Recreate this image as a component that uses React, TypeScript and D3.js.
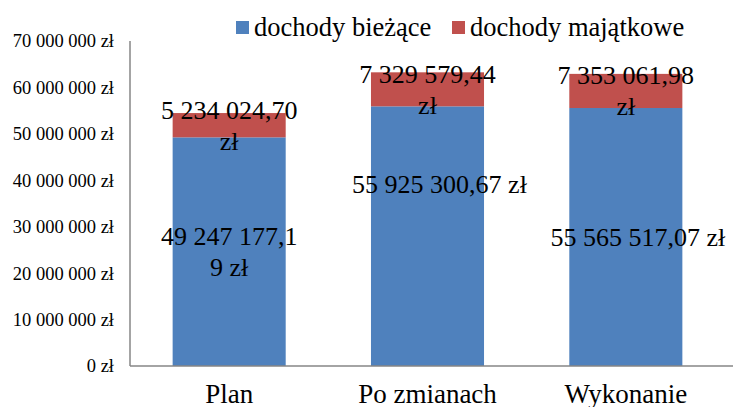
import React from 'react';
import * as d3 from 'd3';

const categories = ['Plan', 'Po zmianach', 'Wykonanie'];
const seriesNames = ['dochody bieżące', 'dochody majątkowe'];
const biezace = [49247177.19, 55925300.67, 55565517.07];
const majatkowe = [5234024.7, 7329579.44, 7353061.98];
const tickValues = [0, 10000000, 20000000, 30000000, 40000000, 50000000, 60000000, 70000000];
// label text as Excel wrapped it
const biezaceLabels = [['49 247 177,1', '9 zł'], ['55 925 300,67 zł'], ['55 565 517,07 zł']];
const majatkoweLabels = [['5 234 024,70', 'zł'], ['7 329 579,44', 'zł'], ['7 353 061,98', 'zł']];

const colors = ['#4F81BD', '#C0504D'];
const FONT = "'Liberation Serif'";

const fmtTick = (d: number) =>
  d === 0 ? '0 zł' : d3.format(',')(d).replace(/,/g, ' ') + ' zł';

const width = 733;
const height = 407;
const margin = { top: 41, right: 8, bottom: 41, left: 130 };

const x = d3
  .scaleBand()
  .domain(categories)
  .range([margin.left, width - margin.right])
  .paddingInner(0.43)
  .paddingOuter(0.215);

const y = d3
  .scaleLinear()
  .domain([0, 70000000])
  .range([height - margin.bottom, margin.top]);

const stackData = categories.map((c, i) => ({ cat: c, a: biezace[i], b: majatkowe[i] }));
const stacked = d3.stack<any>().keys(['a', 'b'])(stackData);
const allLabels = [biezaceLabels, majatkoweLabels];

// Excel placed the middle blue label higher and nudged single-line labels right
const lift = [[0, 52, 0], [0, 0, 0]];
const dxSingle = 12;
const lineH = 31;

const App = () => {
  if (typeof document !== 'undefined') document.body.style.margin = '0';
  return (
    <svg width={width} height={height} style={{ display: 'block', fontFamily: FONT }}>
      {stacked.map((layer, li) =>
        layer.map((d: any) => (
          <rect
            key={li + d.data.cat}
            x={x(d.data.cat)}
            width={x.bandwidth()}
            y={y(d[1])}
            height={y(d[0]) - y(d[1])}
            fill={colors[li]}
          />
        ))
      )}

      {/* y axis */}
      <line x1={margin.left} x2={margin.left} y1={y(70000000)} y2={y(0)} stroke="#868686" strokeWidth={1.5} />
      {tickValues.map((t) => (
        <text key={t} x={margin.left - 16} y={y(t)} dy="0.35em" textAnchor="end" fontSize={18.5} fill="#000" style={{ fontFamily: FONT }}>
          {fmtTick(t)}
        </text>
      ))}

      {/* x axis */}
      <line x1={margin.left} x2={width} y1={y(0)} y2={y(0)} stroke="#868686" strokeWidth={1.5} />
      {categories.map((c) => (
        <text key={c} x={x(c)! + x.bandwidth() / 2} y={y(0) + 37} textAnchor="middle" fontSize={27} fill="#000" style={{ fontFamily: FONT }}>
          {c}
        </text>
      ))}

      {/* data labels */}
      {stacked.map((layer, li) =>
        layer.map((d: any, i: number) => {
          const lines = allLabels[li][i];
          const cx = x(d.data.cat)! + x.bandwidth() / 2 + (lines.length === 1 ? dxSingle : 0);
          const cy = y((d[0] + d[1]) / 2) - lift[li][i];
          return (
            <text key={'l' + li + i} textAnchor="middle" fontSize={26} fill="#000" style={{ fontFamily: FONT }}>
              {lines.map((ln, k) => (
                <tspan key={k} x={cx} y={cy + (k - (lines.length - 1) / 2) * lineH + 9}>
                  {ln}
                </tspan>
              ))}
            </text>
          );
        })
      )}

      {/* legend */}
      {seriesNames.map((n, i) => {
        const lx = [236, 452][i];
        return (
          <g key={n}>
            <rect x={lx} y={21} width={13} height={13} fill={colors[i]} />
            <text x={lx + 18} y={36} fontSize={26.5} fill="#000" style={{ fontFamily: FONT }}>
              {n}
            </text>
          </g>
        );
      })}
    </svg>
  );
};

export default App;
